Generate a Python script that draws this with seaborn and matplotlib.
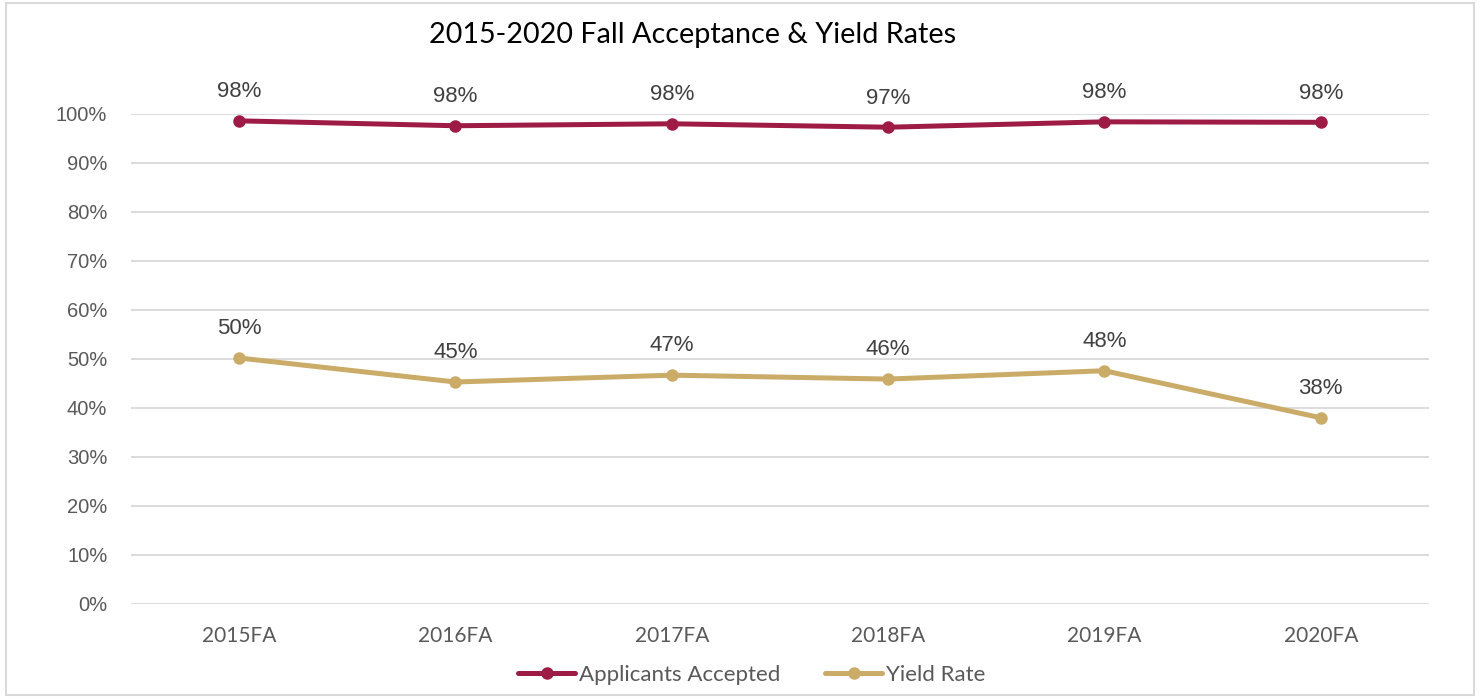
import matplotlib
matplotlib.use("Agg")
import matplotlib.pyplot as plt
import seaborn as sns
import pandas as pd
from matplotlib.patches import Rectangle

terms = ["2015FA", "2016FA", "2017FA", "2018FA", "2019FA", "2020FA"]
accepted = [0.986, 0.976, 0.980, 0.973, 0.984, 0.983]
yield_rate = [0.502, 0.453, 0.467, 0.459, 0.476, 0.380]
accepted_labels = ["98%", "98%", "98%", "97%", "98%", "98%"]
yield_labels = ["50%", "45%", "47%", "46%", "48%", "38%"]
series_names = ["Applicants Accepted", "Yield Rate"]
colors = ["#9E1B45", "#CAAC68"]

df = pd.DataFrame({
    "term": terms * 2,
    "value": accepted + yield_rate,
    "series": [series_names[0]] * len(terms) + [series_names[1]] * len(terms),
})

sns.set_theme(style="white")
plt.rcParams["font.family"] = ["Liberation Sans", "DejaVu Sans"]

fig = plt.figure(figsize=(14.8, 6.98), dpi=100)
ax = fig.add_axes([0.0885, 0.1347, 0.877, 0.702])

sns.lineplot(data=df, x="term", y="value", hue="series", palette=colors,
             marker="o", markersize=9, markeredgewidth=0, linewidth=3.6,
             ax=ax, sort=False, legend=True)

ax.set_xlim(-0.5, len(terms) - 0.5)
ax.set_ylim(0, 1.0)
ax.set_yticks([i / 10 for i in range(11)])
ax.set_yticklabels([f"{i*10}%" for i in range(11)], fontsize=14.5, color="#595959")
ax.set_xticks(range(len(terms)))
ax.set_xticklabels(terms, fontsize=15, color="#595959", family=["Lato", "DejaVu Sans"])
ax.tick_params(axis="y", length=0, pad=17)
ax.tick_params(axis="x", length=0, pad=16)
ax.grid(axis="y", color="#D9D9D9", linewidth=1.3)
ax.set_axisbelow(True)
for s in ax.spines.values():
    s.set_visible(False)
ax.set_xlabel("")
ax.set_ylabel("")

for vals, labs in ((accepted, accepted_labels), (yield_rate, yield_labels)):
    for i, (v, lab) in enumerate(zip(vals, labs)):
        ax.annotate(lab, (i, v), xytext=(0, 21), textcoords="offset points",
                    ha="center", va="center", fontsize=16, color="#404040",
                    annotation_clip=False)

leg = ax.legend(loc="upper center", bbox_to_anchor=(0.478, -0.083), ncol=2,
                frameon=False, handlelength=2.6, handletextpad=0.15,
                columnspacing=2.0, prop={"family": ["Lato", "DejaVu Sans"], "size": 16})
for t in leg.get_texts():
    t.set_color("#595959")
for h in leg.get_lines():
    h.set_linewidth(3.6)

fig.text(0.468, 0.95, "2015-2020 Fall Acceptance & Yield Rates", ha="center", va="center",
         fontsize=20.7, color="black", family=["Lato", "DejaVu Sans"])

fig.patches.append(Rectangle((0.004, 0.004), 0.992, 0.992, transform=fig.transFigure,
                             fill=False, edgecolor="#D9D9D9", linewidth=1.5))

fig.savefig("out.png", dpi=100)
